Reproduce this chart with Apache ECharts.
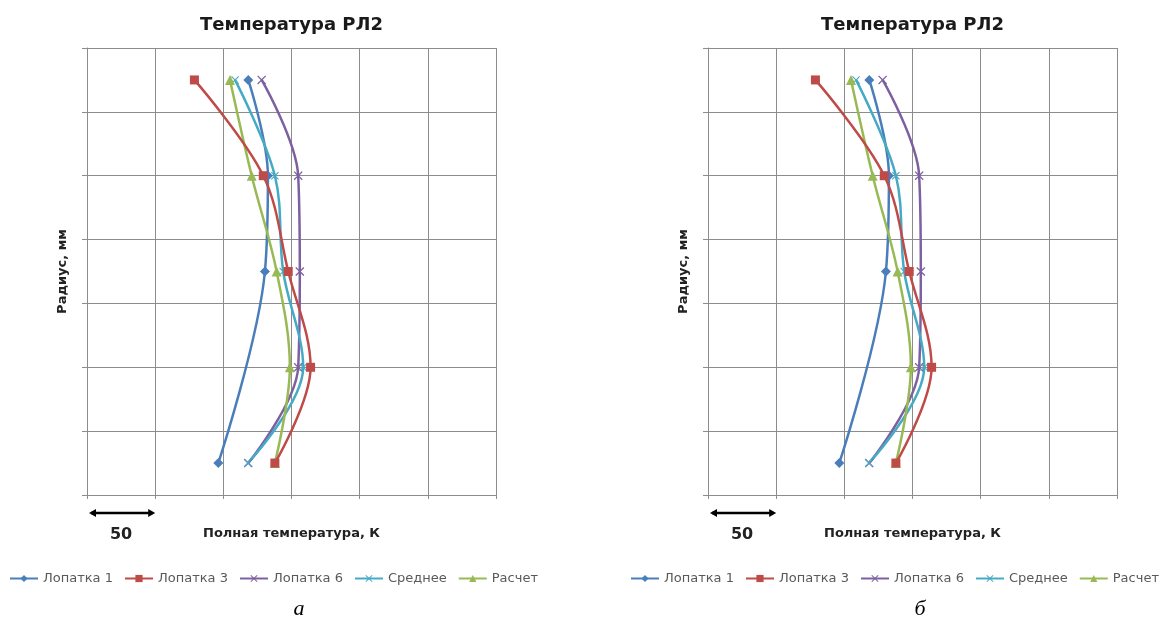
<html>
<head>
<meta charset="UTF-8">
<title>Температура РЛ2</title>
<script src="https://cdn.jsdelivr.net/npm/echarts@6/dist/echarts.min.js"></script>
<style>
    body { margin: 0; background: #fff; }
</style>
</head>
<body>
<div id="chart" style="width:1160px; height:622px;"></div>
<script>
// положение точек по радиусу (в делениях сетки)
var radius = [0.5, 2, 3.5, 5, 6.5];
// полная температура, К (отсчёт от левого края сетки)
var lopatka1 = [96.3, null, 130.5, 132.7, 118.3];
var lopatka3 = [137.8, 164.0, 147.6, 129.3, 78.8];
var lopatka6 = [118.3, 154.9, 156.1, 154.9, 128.1];
var srednee  = [118.0, 158.6, 143.9, 137.8, 108.6];
var raschet  = [137.8, 148.8, 139.1, 120.8, 104.9];

var seriesNames = ['Лопатка 1', 'Лопатка 3', 'Лопатка 6', 'Среднее', 'Расчет'];
var seriesValues = [lopatka1, lopatka3, lopatka6, srednee, raschet];
var panelLetters = ['а', 'б'];
var scaleBar = 50;

var colors = ['#4a7ebb', '#be4b48', '#7d60a0', '#46aac5', '#98b954'];
var crossPath = 'path://M0,1L1,0L5,4L9,0L10,1L6,5L10,9L9,10L5,6L1,10L0,9L4,5Z';
var symbols = ['diamond', 'rect', crossPath, crossPath, 'triangle'];
var symbolSizes = [10, 9, 9, 8, 10];

var panelLeft = [87, 708];
var gridW = 409, gridTop = 48, gridH = 447;

var chart = echarts.init(document.getElementById('chart'), null, { renderer: 'canvas' });

var grids = [], xAxes = [], yAxes = [], titles = [], legends = [], series = [];
for (var g = 0; g < 2; g++) {
    var L = panelLeft[g];
    grids.push({ left: L, top: gridTop, width: gridW, height: gridH });
    titles.push({
        text: 'Температура РЛ2', left: L + gridW / 2 - 5, top: 11, textAlign: 'center',
        textStyle: { fontFamily: 'DejaVu Sans', fontWeight: 'bold', fontSize: 18, color: '#1a1a1a' }
    });
    xAxes.push({
        type: 'value', gridIndex: g, min: 0, max: 300, interval: 50,
        name: 'Полная температура, К', nameLocation: 'middle', nameGap: 32,
        nameTextStyle: { fontFamily: 'DejaVu Sans', fontWeight: 'bold', fontSize: 13, color: '#222' },
        axisLabel: { show: false },
        axisLine: { lineStyle: { color: '#8c8c8c', width: 1 } },
        axisTick: { show: true, length: 4, lineStyle: { color: '#8c8c8c' } },
        splitLine: { show: true, lineStyle: { color: '#8c8c8c', width: 1 } }
    });
    yAxes.push({
        type: 'value', gridIndex: g, min: 0, max: 7, interval: 1,
        name: 'Радиус, мм', nameLocation: 'middle', nameGap: 18,
        nameTextStyle: { fontFamily: 'DejaVu Sans', fontWeight: 'bold', fontSize: 13, color: '#222' },
        axisLabel: { show: false },
        axisLine: { show: true, lineStyle: { color: '#8c8c8c', width: 1 } },
        axisTick: { show: true, length: 5, lineStyle: { color: '#8c8c8c' } },
        splitLine: { show: true, lineStyle: { color: '#8c8c8c', width: 1 } }
    });
    legends.push({
        left: L - 83, top: 567, width: 620, itemWidth: 28, itemHeight: 9, itemGap: 11,
        data: seriesNames,
        textStyle: { fontFamily: 'DejaVu Sans', fontSize: 13, color: '#595959', padding: [0, 0, 0, 0] }
    });
    for (var s = 0; s < seriesNames.length; s++) {
        var pts = [];
        for (var i = 0; i < radius.length; i++) {
            if (seriesValues[s][i] !== null) pts.push([seriesValues[s][i], radius[i]]);
        }
        series.push({
            name: seriesNames[s], type: 'line', xAxisIndex: g, yAxisIndex: g,
            data: pts, smooth: 0.35, symbol: symbols[s], symbolSize: symbolSizes[s],
            itemStyle: { color: colors[s] },
            lineStyle: { color: colors[s], width: 2.5 },
            z: s === 1 ? 3 : 2
        });
    }
}

chart.setOption({
    backgroundColor: '#fff',
    animation: false,
    title: titles,
    legend: legends,
    grid: grids,
    xAxis: xAxes,
    yAxis: yAxes,
    series: series
});

// масштабная линейка "50" и подписи панелей
var graphics = [];
for (var g = 0; g < 2; g++) {
    var x0 = chart.convertToPixel({ xAxisIndex: g }, 0);
    var x1 = chart.convertToPixel({ xAxisIndex: g }, scaleBar);
    var ay = 513;
    graphics.push({ type: 'line', shape: { x1: x0 + 4, y1: ay, x2: x1 - 3, y2: ay }, style: { stroke: '#000', lineWidth: 2.5 } });
    graphics.push({ type: 'polygon', shape: { points: [[x0 + 2, ay], [x0 + 9, ay - 4], [x0 + 9, ay + 4]] }, style: { fill: '#000' } });
    graphics.push({ type: 'polygon', shape: { points: [[x1, ay], [x1 - 7, ay - 4], [x1 - 7, ay + 4]] }, style: { fill: '#000' } });
    graphics.push({
        type: 'text', x: (x0 + x1) / 2, y: 535,
        style: { text: String(scaleBar), fontFamily: 'DejaVu Sans', fontWeight: 'bold', fontSize: 16, fill: '#222', align: 'center', verticalAlign: 'middle' }
    });
    graphics.push({
        type: 'text', x: panelLeft[g] + 212, y: 609,
        style: { text: panelLetters[g], fontFamily: 'Liberation Serif', fontStyle: 'italic', fontSize: 22, fill: '#000', align: 'center', verticalAlign: 'middle' }
    });
}
chart.setOption({ graphic: graphics });
</script>
</body>
</html>
